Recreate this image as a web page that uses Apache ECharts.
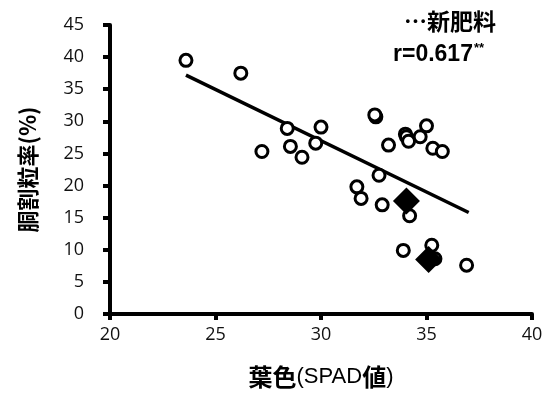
<!DOCTYPE html>
<html>
<head>
<meta charset="utf-8">
<script src="https://cdn.jsdelivr.net/npm/echarts@6/dist/echarts.min.js"></script>
<style>
html, body { margin: 0; padding: 0; background: #fff; }
#chart { width: 546px; height: 394px; }
</style>
</head>
<body>
<div id="chart"></div>
<script>
// Leaf colour (SPAD) vs. cracked-grain rate
const openPoints = [
  [23.6, 39.5], [26.2, 37.5], [28.4, 28.9], [30.0, 29.1],
  [27.2, 25.3], [28.55, 26.1], [29.1, 24.4], [29.75, 26.6],
  [32.6, 30.7], [32.55, 31.0], [33.2, 26.3], [34.0, 28.0],
  [34.05, 27.6], [34.15, 26.9], [34.7, 27.6], [35.0, 29.3],
  [35.3, 25.8], [35.75, 25.3], [32.75, 21.6], [31.7, 19.8],
  [31.9, 18.0], [32.9, 17.0], [34.2, 15.3], [33.9, 9.9],
  [35.25, 10.7], [35.4, 8.6], [36.9, 7.6]
];
const newFertilizer = [[34.05, 17.6], [35.1, 8.5]];
const trendLine = [[23.6, 37.2], [37.0, 15.8]];
const xTicks = [20, 25, 30, 35, 40];
const yTicks = [0, 5, 10, 15, 20, 25, 30, 35, 40, 45];

const chart = echarts.init(document.getElementById('chart'));
const font = 'Liberation Sans, Arial, sans-serif';
const cjk = '"Noto Sans CJK JP", sans-serif';
const tickFont = '"Open Sans", sans-serif';

chart.setOption({
  animation: false,
  backgroundColor: '#fff',
  title: [
    {
      text: '…新肥料', left: 404, top: 8, padding: 0,
      textStyle: { fontFamily: cjk, fontWeight: 'bold', fontSize: 23, lineHeight: 26, color: '#000' }
    },
    {
      text: '{m|r=0.617}{s|**}', left: 393, top: 42, padding: 0,
      textStyle: {
        rich: {
          m: { fontFamily: font, fontWeight: 'bold', fontSize: 23, color: '#000' },
          s: { fontFamily: font, fontWeight: 'bold', fontSize: 13, color: '#000', verticalAlign: 'top', padding: [0, 0, 12, 1] }
        }
      }
    }
  ],
  grid: { left: 110, right: 14, top: 25, bottom: 76 },
  xAxis: {
    type: 'value',
    min: xTicks[0], max: xTicks[xTicks.length - 1], interval: 5,
    splitLine: { show: false },
    axisLine: { show: true, lineStyle: { color: '#000', width: 4 } },
    axisTick: { show: true, length: 6, lineStyle: { color: '#000', width: 4 } },
    axisLabel: { color: '#111', fontSize: 18, fontFamily: tickFont, margin: 12 },
    name: '{b|葉色}{r|(SPAD}{b|値}{r|)}',
    nameLocation: 'middle',
    nameGap: 51,
    nameTextStyle: {
      rich: {
        b: { fontFamily: cjk, fontWeight: 'bold', fontSize: 24, color: '#000' },
        r: { fontFamily: font, fontSize: 22, color: '#000' }
      }
    }
  },
  yAxis: {
    type: 'value',
    min: yTicks[0], max: yTicks[yTicks.length - 1], interval: 5,
    splitLine: { show: false },
    axisLine: { show: true, lineStyle: { color: '#000', width: 4 } },
    axisTick: { show: true, length: 7, lineStyle: { color: '#000', width: 4 } },
    axisLabel: { color: '#111', fontSize: 18, fontFamily: tickFont, margin: 26 },
    name: '胴割粒率(%)',
    nameLocation: 'middle',
    nameRotate: 90,
    nameGap: 71,
    nameTextStyle: { fontFamily: cjk, fontWeight: 'bold', fontSize: 22, color: '#000' }
  },
  series: [
    { type: 'line', data: trendLine, symbol: 'none', lineStyle: { color: '#000', width: 3.5 }, z: 1 },
    { type: 'scatter', data: openPoints, symbolSize: 12,
      itemStyle: { color: '#fff', borderColor: '#000', borderWidth: 3, opacity: 1 } },
    { type: 'scatter', data: newFertilizer, symbol: 'diamond', symbolSize: 27,
      itemStyle: { color: '#000', opacity: 1 } }
  ]
});
// read back the merged option once the chart is drawn
const merged = chart.getOption();
window.chartAxisWidth = merged.xAxis[0].axisLine.lineStyle.width;
</script>
</body>
</html>
